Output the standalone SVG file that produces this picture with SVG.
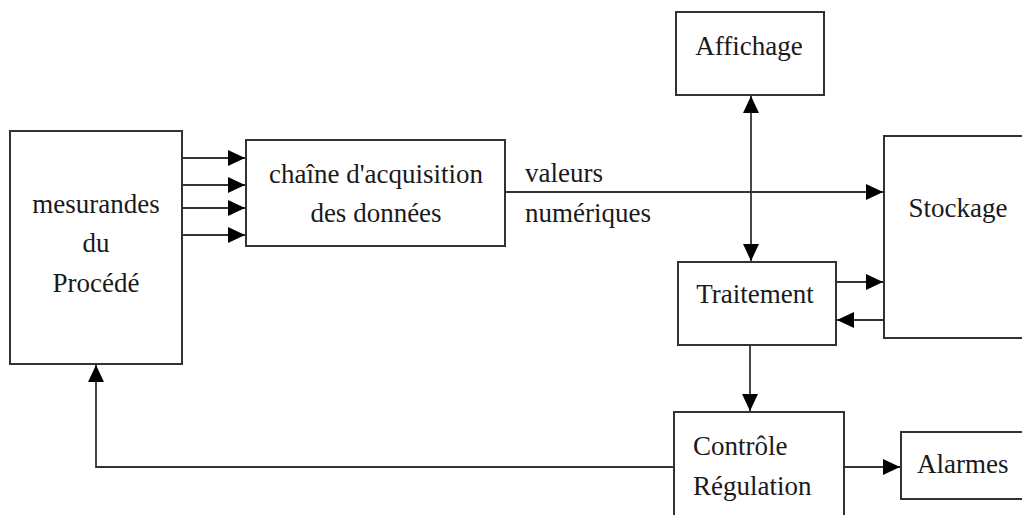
<svg xmlns="http://www.w3.org/2000/svg" width="1022" height="515" viewBox="0 0 1022 515">
  <style>
    .box { fill: #ffffff; stroke: #333333; stroke-width: 2; }
    .edge { fill: none; stroke: #333333; stroke-width: 1.8; }
  </style>
  <defs>
    <marker id="arr" viewBox="0 0 17 16" refX="17" refY="8" markerWidth="17" markerHeight="16" markerUnits="userSpaceOnUse" orient="auto-start-reverse">
      <path d="M0,0 L17,8 L0,16 Z" fill="#000000"/>
    </marker>
  </defs>
  <rect width="1022" height="515" fill="#ffffff"/>

  <g id="connectors">
    <line class="edge" x1="182" y1="158" x2="245" y2="158" marker-end="url(#arr)"/>
    <line class="edge" x1="182" y1="185" x2="245" y2="185" marker-end="url(#arr)"/>
    <line class="edge" x1="182" y1="208" x2="245" y2="208" marker-end="url(#arr)"/>
    <line class="edge" x1="182" y1="235" x2="245" y2="235" marker-end="url(#arr)"/>
    <line class="edge" x1="505" y1="192" x2="883" y2="192" marker-end="url(#arr)"/>
    <line class="edge" x1="751" y1="96" x2="751" y2="261" marker-start="url(#arr)" marker-end="url(#arr)"/>
    <line class="edge" x1="836" y1="282" x2="883" y2="282" marker-end="url(#arr)"/>
    <line class="edge" x1="884" y1="320" x2="837" y2="320" marker-end="url(#arr)"/>
    <line class="edge" x1="750" y1="345" x2="750" y2="411" marker-end="url(#arr)"/>
    <line class="edge" x1="844" y1="467" x2="900" y2="467" marker-end="url(#arr)"/>
    <polyline class="edge" points="674,467 96,467 96,365" marker-end="url(#arr)"/>
  </g>

  <g id="procede">
    <rect class="box" x="10" y="131" width="172" height="233"/>
    <text font-family="Liberation Serif" font-size="27" fill="#1a1a1a" text-anchor="middle" x="96" y="213">mesurandes</text>
    <text font-family="Liberation Serif" font-size="27" fill="#1a1a1a" text-anchor="middle" x="96" y="252">du</text>
    <text font-family="Liberation Serif" font-size="27" fill="#1a1a1a" text-anchor="middle" x="96" y="292">Procédé</text>
  </g>

  <g id="acquisition">
    <rect class="box" x="246" y="140" width="259" height="106"/>
    <text font-family="Liberation Serif" font-size="27" fill="#1a1a1a" text-anchor="middle" x="376" y="183">chaîne d'acquisition</text>
    <text font-family="Liberation Serif" font-size="27" fill="#1a1a1a" text-anchor="middle" x="376" y="222">des données</text>
  </g>

  <g id="valeurs-label">
    <text font-family="Liberation Serif" font-size="27" fill="#1a1a1a" x="525" y="182">valeurs</text>
    <text font-family="Liberation Serif" font-size="27" fill="#1a1a1a" x="525" y="222">numériques</text>
  </g>

  <g id="affichage">
    <rect class="box" x="676" y="12" width="148" height="83"/>
    <text font-family="Liberation Serif" font-size="27" fill="#1a1a1a" text-anchor="middle" x="749" y="55">Affichage</text>
  </g>

  <g id="stockage">
    <rect class="box" x="884" y="136" width="150" height="202"/>
    <text font-family="Liberation Serif" font-size="27" fill="#1a1a1a" text-anchor="middle" x="958" y="217">Stockage</text>
  </g>

  <g id="traitement">
    <rect class="box" x="678" y="262" width="158" height="83"/>
    <text font-family="Liberation Serif" font-size="27" fill="#1a1a1a" text-anchor="middle" x="755" y="303">Traitement</text>
  </g>

  <g id="controle">
    <rect class="box" x="674" y="412" width="170" height="120"/>
    <text font-family="Liberation Serif" font-size="27" fill="#1a1a1a" x="693" y="455">Contrôle</text>
    <text font-family="Liberation Serif" font-size="27" fill="#1a1a1a" x="693" y="495">Régulation</text>
  </g>

  <g id="alarmes">
    <rect class="box" x="901" y="432" width="130" height="67"/>
    <text font-family="Liberation Serif" font-size="27" fill="#1a1a1a" x="917" y="473">Alarmes</text>
  </g>
</svg>
